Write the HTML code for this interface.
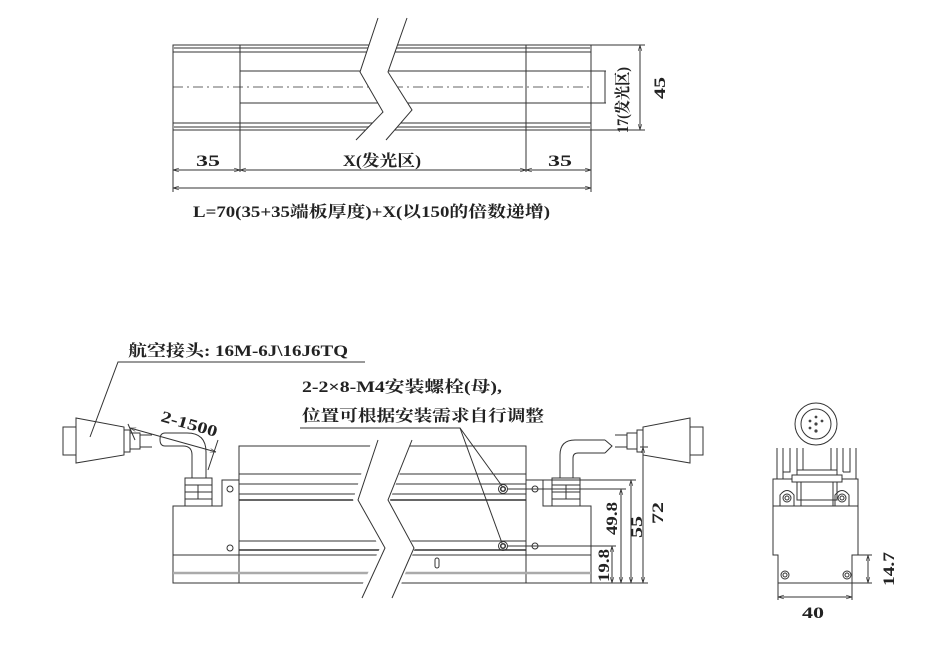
<!DOCTYPE html>
<html><head><meta charset="utf-8"><style>
html,body{margin:0;padding:0;background:#fff}
svg{display:block}
text{font-family:"Liberation Serif","Noto Serif CJK SC",serif;font-weight:bold;fill:#222}
</style></head><body>
<svg width="949" height="665" viewBox="0 0 949 665" xmlns="http://www.w3.org/2000/svg">
<defs>
<marker id="a" viewBox="0 0 10 10" refX="10" refY="5" markerWidth="6" markerHeight="6" orient="auto-start-reverse"><path d="M0,2 L10,5 L0,8" fill="none" stroke="#333" stroke-width="1"/></marker>
</defs>
<g stroke="#333" stroke-width="1" fill="none">
<!-- TOP VIEW -->
<rect x="173" y="45" width="418" height="85"/>
<line x1="173" y1="48" x2="591" y2="48" stroke="#999" stroke-width="2"/>
<line x1="173" y1="52" x2="591" y2="52"/>
<line x1="173" y1="123" x2="591" y2="123"/>
<line x1="173" y1="127" x2="591" y2="127" stroke="#999" stroke-width="2"/>
<line x1="240" y1="45" x2="240" y2="130"/>
<line x1="526" y1="45" x2="526" y2="130"/>
<line x1="240" y1="71" x2="606" y2="71"/>
<line x1="240" y1="103" x2="606" y2="103"/>
<line x1="173" y1="87" x2="591" y2="87" stroke-dasharray="10,4,2,4" stroke-width="0.7"/>
<line x1="605" y1="71" x2="605" y2="103"/>
<line x1="591" y1="45" x2="645" y2="45"/><line x1="591" y1="130" x2="645" y2="130"/>
<line x1="640" y1="45" x2="640" y2="130" marker-start="url(#a)" marker-end="url(#a)"/>
<line x1="173" y1="130" x2="173" y2="192"/><line x1="591" y1="130" x2="591" y2="192"/>
<line x1="240" y1="130" x2="240" y2="172"/><line x1="526" y1="130" x2="526" y2="172"/>
<line x1="173" y1="170" x2="240" y2="170" marker-start="url(#a)" marker-end="url(#a)"/>
<line x1="240" y1="170" x2="526" y2="170" marker-start="url(#a)" marker-end="url(#a)"/>
<line x1="526" y1="170" x2="591" y2="170" marker-start="url(#a)" marker-end="url(#a)"/>
<line x1="173" y1="188" x2="591" y2="188" marker-start="url(#a)" marker-end="url(#a)"/>
<polygon points="378,18 360,72 383,112 356,140 386,140 412,110 388,72 407,18" fill="#fff" stroke="none"/>
<polyline points="378,18 360,72 383,112 356,140"/>
<polyline points="407,18 388,72 412,110 386,140"/>

<!-- FRONT VIEW -->
<rect x="239" y="446" width="287" height="137"/>
<polyline points="239,480 222,480 222,506 173,506 173,583 239,583"/>
<polyline points="526,480 543,480 543,506 591,506 591,583 526,583"/>
<line x1="239" y1="474" x2="526" y2="474"/>
<line x1="239" y1="484" x2="526" y2="484"/>
<line x1="239" y1="494" x2="526" y2="494"/>
<line x1="239" y1="500" x2="526" y2="500" stroke-width="1.5"/>
<line x1="239" y1="541" x2="526" y2="541"/>
<line x1="239" y1="550" x2="526" y2="550" stroke-width="1.5"/>
<line x1="173" y1="555" x2="591" y2="555"/>
<line x1="173" y1="573" x2="591" y2="573" stroke="#aaa" stroke-width="2.5"/>
<circle cx="230" cy="489" r="3"/><circle cx="230" cy="548" r="3"/>
<circle cx="535" cy="489" r="3"/><circle cx="535" cy="546" r="3"/>
<circle cx="503" cy="489" r="4.5"/><circle cx="503" cy="489" r="2.3" stroke-width="1.5"/>
<circle cx="503" cy="546" r="4.5"/><circle cx="503" cy="546" r="2.3" stroke-width="1.5"/>
<rect x="435" y="558" width="4" height="10" rx="2"/>
<polygon points="372,440 353,500 380,548 355,600 395,600 415,548 390,500 412,440" fill="#fff" stroke="none"/>
<polyline points="378,440 358,500 385,548 362,598"/>
<polyline points="412,440 388,500 414,548 392,598"/>
<rect x="185" y="478" width="27" height="28"/>
<line x1="185" y1="485" x2="212" y2="485"/><line x1="185" y1="492" x2="212" y2="492"/><line x1="185" y1="499" x2="212" y2="499"/>
<line x1="198" y1="485" x2="198" y2="499"/>
<path d="M192,478 L192,455 Q192,446 183,446 L165,446 M206,478 L206,452 Q206,433 187,433 L165,433"/>
<path d="M165,433 Q160,433 160,439.5 Q160,446 165,446"/>
<rect x="552" y="478" width="28" height="28"/>
<line x1="552" y1="485" x2="580" y2="485"/><line x1="552" y1="492" x2="580" y2="492"/><line x1="552" y1="499" x2="580" y2="499"/>
<line x1="566" y1="485" x2="566" y2="499"/>
<path d="M560,478 L560,455 Q560,440 575,440 L605,440 M573,478 L573,458 Q573,453 578,453 L605,453"/>
<path d="M605,440 L612,446 L605,453"/>
<rect x="63" y="427" width="13" height="28"/>
<path d="M76,418 L76,463 L124,455 L124,427 Z"/>
<rect x="124" y="430" width="6" height="22"/><rect x="130" y="433" width="10" height="16"/>
<line x1="140" y1="435" x2="152" y2="435"/><line x1="140" y1="447" x2="152" y2="447"/>
<rect x="690" y="427" width="13" height="28"/>
<path d="M690,418 L690,463 L643,455 L643,427 Z"/>
<rect x="637" y="430" width="6" height="22"/><rect x="627" y="433" width="10" height="16"/>
<line x1="615" y1="435" x2="627" y2="435"/><line x1="615" y1="447" x2="627" y2="447"/>
<polyline points="90,437 118,362 365,362"/>
<polyline points="300,428 460,428 502,486"/>
<line x1="460" y1="428" x2="502" y2="543"/>
<line x1="130" y1="428" x2="216" y2="452" marker-start="url(#a)" marker-end="url(#a)"/>
<line x1="135" y1="440" x2="128" y2="424"/>
<line x1="208" y1="470" x2="218" y2="440"/>
<line x1="543" y1="480" x2="636" y2="480"/>
<line x1="507" y1="489" x2="626" y2="489"/>
<line x1="507" y1="546" x2="616" y2="546"/>
<line x1="591" y1="583" x2="648" y2="583"/>
<line x1="640" y1="447" x2="648" y2="447"/>
<line x1="612" y1="546" x2="612" y2="583" marker-start="url(#a)" marker-end="url(#a)"/>
<line x1="621" y1="489" x2="621" y2="583" marker-start="url(#a)" marker-end="url(#a)"/>
<line x1="631" y1="480" x2="631" y2="583" marker-start="url(#a)" marker-end="url(#a)"/>
<line x1="643" y1="447" x2="643" y2="583" marker-start="url(#a)" marker-end="url(#a)"/>

<!-- SIDE VIEW -->
<circle cx="816" cy="424" r="21"/><circle cx="816" cy="424" r="15"/>
<g fill="#444" stroke="none"><circle cx="816" cy="424" r="1.6"/><circle cx="810" cy="421" r="1.4"/><circle cx="822" cy="421" r="1.4"/><circle cx="810" cy="428" r="1.4"/><circle cx="816" cy="431" r="1.6"/><circle cx="816" cy="417" r="1.4"/></g>
<path d="M777,479 L777,448 M783,479 L783,448 L783,472 L790,472 L790,448 M797,479 L797,448 M803,479 L803,448 M831,479 L831,448 M837,479 L837,448 M843,472 L850,472 L850,448 M843,448 L843,472 M856,479 L856,448"/>
<path d="M773,479 L858,479 L858,555 L852,555 L852,583 L778,583 L778,555 L773,555 Z"/>
<line x1="773" y1="506" x2="858" y2="506"/>
<rect x="797" y="470" width="40" height="30" fill="#fff"/>
<rect x="801" y="482" width="32" height="24"/>
<rect x="792" y="475" width="50" height="7" fill="#fff"/>
<path d="M780,506 L780,495 Q787,486 794,495 L794,506 M835,506 L835,495 Q842,486 849,495 L849,506"/>
<circle cx="787" cy="498" r="4"/><circle cx="787" cy="498" r="2"/>
<circle cx="842" cy="498" r="4"/><circle cx="842" cy="498" r="2"/>
<circle cx="785" cy="575" r="4"/><circle cx="785" cy="575" r="2"/>
<circle cx="847" cy="575" r="4"/><circle cx="847" cy="575" r="2"/>
<line x1="778" y1="583" x2="778" y2="600"/><line x1="852" y1="583" x2="852" y2="600"/>
<line x1="778" y1="597" x2="852" y2="597" marker-start="url(#a)" marker-end="url(#a)"/>
<line x1="858" y1="555" x2="872" y2="555"/><line x1="852" y1="583" x2="872" y2="583"/>
<line x1="868" y1="555" x2="868" y2="583" marker-start="url(#a)" marker-end="url(#a)"/>
</g>

<!-- TEXT -->
<g font-size="16">
<text x="196" y="166" textLength="24" lengthAdjust="spacingAndGlyphs">35</text>
<text x="343" y="166" textLength="78" lengthAdjust="spacingAndGlyphs">X(发光区)</text>
<text x="548" y="166" textLength="24" lengthAdjust="spacingAndGlyphs">35</text>
<text x="193" y="217" textLength="357" lengthAdjust="spacingAndGlyphs">L=70(35+35端板厚度)+X(以150的倍数递增)</text>
<text transform="translate(628,133) rotate(-90)" textLength="66" lengthAdjust="spacingAndGlyphs">17(发光区)</text>
<text transform="translate(665,99) rotate(-90)" textLength="22" lengthAdjust="spacingAndGlyphs">45</text>
<text x="128" y="356" textLength="220" lengthAdjust="spacingAndGlyphs">航空接头: 16M-6J\16J6TQ</text>
<text x="302" y="392" textLength="200" lengthAdjust="spacingAndGlyphs">2-2×8-M4安装螺栓(母),</text>
<text x="302" y="421" textLength="242" lengthAdjust="spacingAndGlyphs">位置可根据安装需求自行调整</text>
<text transform="translate(160,421) rotate(16)" textLength="58" lengthAdjust="spacingAndGlyphs">2-1500</text>
<text transform="translate(609,582) rotate(-90)" textLength="33" lengthAdjust="spacingAndGlyphs">19.8</text>
<text transform="translate(617,535) rotate(-90)" textLength="33" lengthAdjust="spacingAndGlyphs">49.8</text>
<text transform="translate(642,538) rotate(-90)" textLength="22" lengthAdjust="spacingAndGlyphs">55</text>
<text transform="translate(663,524) rotate(-90)" textLength="22" lengthAdjust="spacingAndGlyphs">72</text>
<text x="802" y="618" textLength="22" lengthAdjust="spacingAndGlyphs">40</text>
<text transform="translate(894,586) rotate(-90)" textLength="34" lengthAdjust="spacingAndGlyphs">14.7</text>
</g>
</svg>
</body></html>
